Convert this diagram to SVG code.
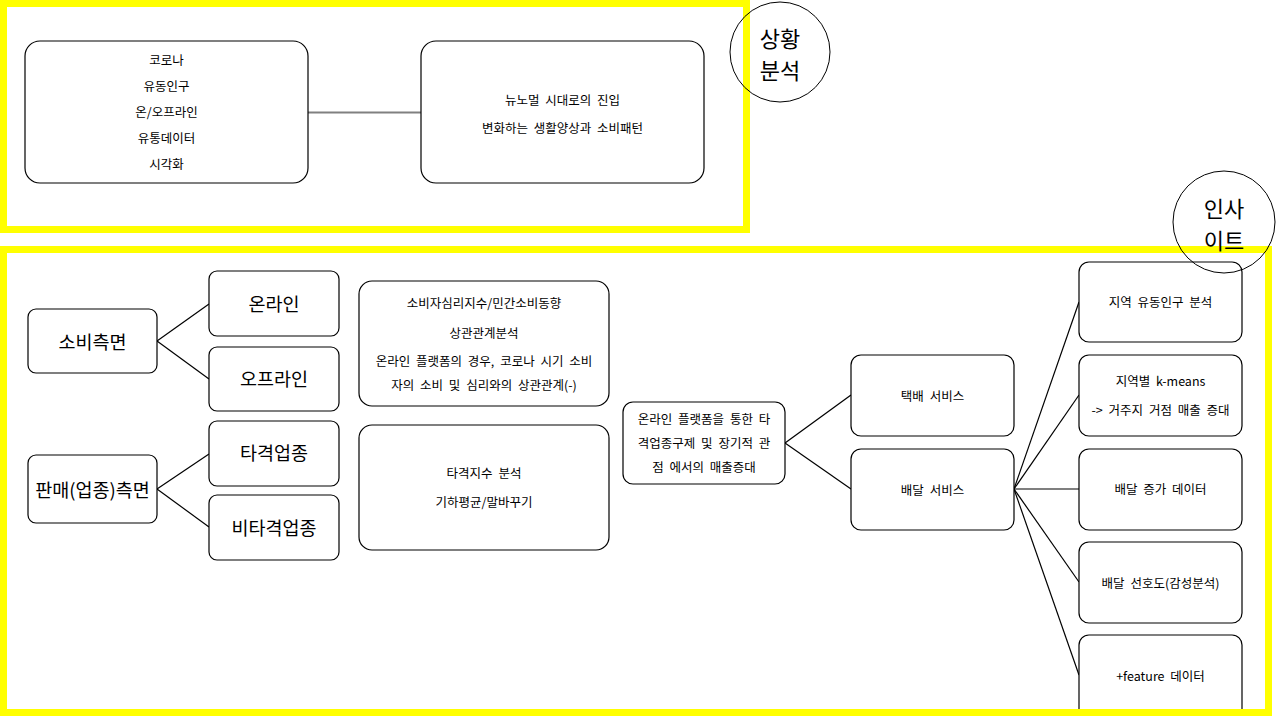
<svg xmlns="http://www.w3.org/2000/svg" width="1280" height="720" viewBox="0 0 1280 720">
<style>
.box{fill:#fff;stroke:#000;stroke-width:1.2}
.t{font-family:"Noto Sans CJK KR","Malgun Gothic",sans-serif;font-size:12.5px;fill:#000;text-anchor:middle;dominant-baseline:central;word-spacing:3px}
.big{font-family:"Noto Sans CJK KR",sans-serif;font-size:18.5px;fill:#000;text-anchor:middle;dominant-baseline:central}
.circ{font-family:"Noto Sans CJK KR",sans-serif;font-size:22px;fill:#000;text-anchor:middle;dominant-baseline:central}
.ln{stroke:#000;stroke-width:1.2;fill:none}
.yl{fill:none;stroke:#ffff00;stroke-width:7}
</style>
<rect width="1280" height="720" fill="#fff"/>
<g id="connectors">
<line x1="308" y1="112.5" x2="421" y2="112.5" stroke="#808080" stroke-width="2"/>
<line class="ln" x1="157" y1="341" x2="209" y2="304"/>
<line class="ln" x1="157" y1="341" x2="209" y2="379"/>
<line class="ln" x1="157" y1="489" x2="209" y2="454"/>
<line class="ln" x1="157" y1="489" x2="209" y2="527"/>
<line class="ln" x1="785" y1="443" x2="851" y2="395"/>
<line class="ln" x1="785" y1="443" x2="851" y2="489"/>
<line class="ln" x1="1014" y1="489" x2="1079" y2="302"/>
<line class="ln" x1="1014" y1="489" x2="1079" y2="395"/>
<line class="ln" x1="1014" y1="489" x2="1079" y2="489"/>
<line class="ln" x1="1014" y1="489" x2="1079" y2="582"/>
<line class="ln" x1="1014" y1="489" x2="1079" y2="675"/>
</g>
<g id="n-keywords"><rect class="box" x="25" y="41" width="283" height="142" rx="15"/>
<text class="t" x="166.5" y="59">코로나</text><text class="t" x="166.5" y="85">유동인구</text><text class="t" x="166.5" y="111">온/오프라인</text><text class="t" x="166.5" y="137">유통데이터</text><text class="t" x="166.5" y="163">시각화</text></g>
<g id="n-newnormal"><rect class="box" x="421" y="41" width="283" height="142" rx="15"/>
<text class="t" x="562.5" y="99">뉴노멀 시대로의 진입</text><text class="t" x="562.5" y="127">변화하는 생활양상과 소비패턴</text></g>
<g id="n-consume"><rect class="box" x="28" y="309" width="129" height="64" rx="8"/><text class="big" x="92.5" y="341">소비측면</text></g>
<g id="n-sales"><rect class="box" x="28" y="455" width="129" height="68" rx="8"/><text class="big" x="92.5" y="489">판매(업종)측면</text></g>
<g id="n-online"><rect class="box" x="209" y="271" width="130" height="65" rx="8"/><text class="big" x="274" y="303">온라인</text></g>
<g id="n-offline"><rect class="box" x="209" y="347" width="130" height="64" rx="8"/><text class="big" x="274" y="378">오프라인</text></g>
<g id="n-hit"><rect class="box" x="209" y="421" width="130" height="65" rx="8"/><text class="big" x="274" y="452">타격업종</text></g>
<g id="n-nohit"><rect class="box" x="209" y="495" width="130" height="65" rx="8"/><text class="big" x="274" y="527">비타격업종</text></g>
<g id="n-corr"><rect class="box" x="359" y="281" width="250" height="125" rx="13"/>
<text class="t" x="484" y="302">소비자심리지수/민간소비동향</text><text class="t" x="484" y="332">상관관계분석</text><text class="t" x="484" y="360">온라인 플랫폼의 경우, 코로나 시기 소비</text><text class="t" x="484" y="384">자의 소비 및 심리와의 상관관계(-)</text></g>
<g id="n-index"><rect class="box" x="359" y="425" width="250" height="125" rx="13"/>
<text class="t" x="484" y="472">타격지수 분석</text><text class="t" x="484" y="501">기하평균/말바꾸기</text></g>
<g id="n-center"><rect class="box" x="623" y="402" width="162" height="82" rx="10"/>
<text class="t" x="704" y="418">온라인 플랫폼을 통한 타</text><text class="t" x="704" y="442">격업종구제 및 장기적 관</text><text class="t" x="704" y="466">점 에서의 매출증대</text></g>
<g id="n-parcel"><rect class="box" x="851" y="355" width="163" height="81" rx="10"/><text class="t" x="932.5" y="395">택배 서비스</text></g>
<g id="n-delivery"><rect class="box" x="851" y="449" width="163" height="81" rx="10"/><text class="t" x="932.5" y="489">배달 서비스</text></g>
<g id="n-pop"><rect class="box" x="1079" y="262" width="163" height="80" rx="10"/><text class="t" x="1160.5" y="301">지역 유동인구 분석</text></g>
<g id="n-kmeans"><rect class="box" x="1079" y="355" width="163" height="81" rx="10"/><text class="t" x="1160.5" y="380">지역별 k-means</text><text class="t" x="1160.5" y="409">-&gt; 거주지 거점 매출 증대</text></g>
<g id="n-inc"><rect class="box" x="1079" y="449" width="163" height="81" rx="10"/><text class="t" x="1160.5" y="488">배달 증가 데이터</text></g>
<g id="n-pref"><rect class="box" x="1079" y="542" width="163" height="81" rx="10"/><text class="t" x="1160.5" y="582">배달 선호도(감성분석)</text></g>
<g id="n-feature"><path class="box" d="M1079,712 V645 A10,10 0 0 1 1089,635 H1232 A10,10 0 0 1 1242,645 V712"/><text class="t" x="1160.5" y="675">+feature 데이터</text></g>
<g id="regions">
<rect class="yl" x="3.5" y="3.5" width="743" height="226"/>
<rect class="yl" x="3.5" y="249.5" width="1265" height="463"/>
</g>
<g id="c-situation"><circle cx="780" cy="52" r="50" fill="none" stroke="#000" stroke-width="1"/><text class="circ" x="780" y="37">상황</text><text class="circ" x="780" y="69">분석</text></g>
<g id="c-insight"><circle cx="1224" cy="222" r="51" fill="none" stroke="#000" stroke-width="1"/><text class="circ" x="1224" y="207">인사</text><text class="circ" x="1224" y="239">이트</text></g>
</svg>
